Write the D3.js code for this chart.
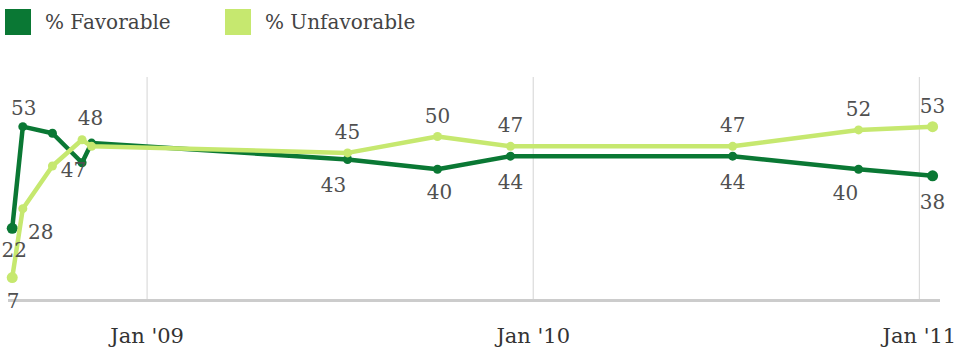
<!DOCTYPE html>
<html>
<head>
<meta charset="utf-8">
<script src="https://cdn.jsdelivr.net/npm/d3@7"></script>
<style>
  html, body { margin: 0; padding: 0; background: #fff; }
  svg { display: block; font-family: "DejaVu Serif", serif; }
</style>
</head>
<body>
<svg id="chart" width="956" height="353"></svg>
<script>
// Poll dates and results
const pollDates = ["2008-08-27", "2008-09-06", "2008-10-04", "2008-11-01", "2008-11-10",
                   "2009-07-10", "2009-10-03", "2009-12-11", "2010-07-09", "2010-11-05", "2011-01-14"];
const favorable   = [22, 53, 51, 42, 48, 43, 40, 44, 44, 40, 38];
const unfavorable = [7, 28, 41, 49, 47, 45, 50, 47, 47, 52, 53];
// Which points carry a value label
const labeledPoints = [0, 1, 4, 5, 6, 7, 8, 9, 10];
const seriesNames = ["% Favorable", "% Unfavorable"];
const tickDates = ["2009-01-01", "2010-01-01", "2011-01-01"];

const parse = d3.utcParse("%Y-%m-%d");
const colors = ["#0a7834", "#c6e86f"];

const svg = d3.select("#chart");

const x = d3.scaleUtc()
  .domain([parse("2008-08-23"), parse("2011-01-21")])
  .range([8, 940]);
const y = d3.scaleLinear()
  .domain([0, 60])
  .range([300.5, 300.5 - 60 * 3.28]);

// Vertical gridlines at each January
svg.append("g")
  .attr("transform", "translate(0,300)")
  .call(d3.axisBottom(x).tickValues(tickDates.map(parse)).tickSize(-223).tickFormat(""))
  .call(g => g.select(".domain").remove())
  .call(g => g.selectAll("line").attr("stroke", "#d4d4d4").attr("stroke-width", 1));

// Baseline
svg.append("line")
  .attr("x1", 8).attr("x2", 940)
  .attr("y1", 300.5).attr("y2", 300.5)
  .attr("stroke", "#cccccc").attr("stroke-width", 3);

// Month labels
svg.append("g")
  .attr("transform", "translate(0,300)")
  .call(d3.axisBottom(x).tickValues(tickDates.map(parse)).tickSize(0).tickPadding(28)
        .tickFormat(d3.utcFormat("Jan '%y")))
  .call(g => g.select(".domain").remove())
  .call(g => g.selectAll("text")
        .attr("font-family", "DejaVu Serif")
        .attr("font-size", 21)
        .attr("fill", "#333"));

const series = [favorable, unfavorable].map((vals, s) => ({
  name: seriesNames[s],
  color: colors[s],
  points: vals.map((v, i) => ({ date: parse(pollDates[i]), value: v, i }))
}));

const line = d3.line().x(d => x(d.date)).y(d => y(d.value));

const last = pollDates.length - 1;
series.forEach(s => {
  svg.append("path")
    .datum(s.points)
    .attr("fill", "none")
    .attr("stroke", s.color)
    .attr("stroke-width", 4.5)
    .attr("stroke-linejoin", "round")
    .attr("d", line);
  svg.append("g").selectAll("circle")
    .data(s.points)
    .join("circle")
    .attr("cx", d => x(d.date))
    .attr("cy", d => y(d.value))
    .attr("r", d => (d.i === 0 || d.i === last) ? 5.5 : 4.5)
    .attr("fill", s.color);
});

// Value labels: favorable below its line, unfavorable above, with a few nudges
// where the early points crowd together.
const nudges = [
  { 0: [2, 29], 1: [1, -12], 4: [-1, -18], 5: [-14, 33], 6: [2, 30], 9: [-13, 31] },
  { 0: [1, 30], 1: [18, 30], 4: [-18, 31] }
];
const defaults = [[0, 33], [0, -14]];

series.forEach((s, si) => {
  svg.append("g").selectAll("text")
    .data(s.points.filter(p => labeledPoints.includes(p.i)))
    .join("text")
    .attr("x", d => x(d.date) + ((nudges[si][d.i] || defaults[si])[0]))
    .attr("y", d => y(d.value) + ((nudges[si][d.i] || defaults[si])[1]))
    .attr("text-anchor", "middle")
    .attr("font-size", 20)
    .attr("fill", "#505050")
    .text(d => d.value);
});

// Legend
const legend = svg.append("g");
[[5, 45], [225, 265]].forEach(([sx, tx], i) => {
  legend.append("rect")
    .attr("x", sx).attr("y", 9)
    .attr("width", 26).attr("height", 26)
    .attr("fill", colors[i]);
  legend.append("text")
    .attr("x", tx).attr("y", 29)
    .attr("font-size", 20)
    .attr("fill", "#444")
    .text(seriesNames[i]);
});
</script>
</body>
</html>
